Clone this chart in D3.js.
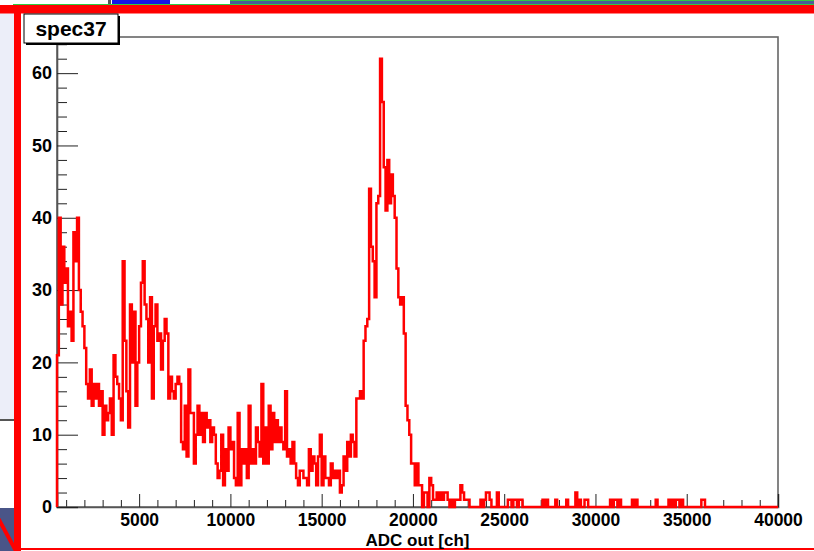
<!DOCTYPE html>
<html>
<head>
<meta charset="utf-8">
<script src="https://cdn.jsdelivr.net/npm/d3@7"></script>
<style>
  body { margin: 0; background: #fff; }
  svg { display: block; }
  text { font-family: "Liberation Sans", Arial, sans-serif; font-weight: bold; }
</style>
</head>
<body>
<div class="div1"></div>
<script>
// histogram spec37, bin width 100 ch, first bin starts at 500
const binStart = 500;
const binWidth = 100;

// 500 - 7600
const countsLow = [
  21,40,28,36,31,33,25,27,23,38,
  34,40,30,27,25,22,17,15,19,14,
  17,15,17,14,16,10,14,12,13,15,
  10,21,18,17,15,12,34,23,16,11,
  28,20,27,14,20,25,31,34,28,26,
  20,29,15,25,28,23,24,19,23,26,
  24,15,18,16,15,17,18,17,9,8,
  14
];
// 7600 - 14900
const countsMid = [
  7,19,13,13,6,10,14,10,13,9,
  13,11,12,9,11,10,6,4,5,10,
  3,8,5,11,8,9,4,3,13,3,
  8,6,8,4,14,6,8,6,11,9,
  7,17,6,11,6,14,8,13,9,12,
  9,11,9,8,16,7,8,6,9,6,
  4,3,5,5,4,4,3,8,5,7,
  6,3,7
];
// 14900 - 20500
const countsPeak = [
  10,3,7,4,4,3,6,4,5,4,
  5,2,3,7,5,9,7,10,9,7,
  15,15,16,15,23,25,26,44,36,34,
  29,42,43,62,56,47,41,48,42,46,
  43,40,33,29,28,29,24,14,12,10,
  6,6,3,6,3,3
];
// 20500 - 40000
const countsTail = [
  0,2,2,0,4,3,1,1,2,1,
  2,1,2,2,1,0,1,0,1,1,
  1,3,2,1,1,1,0,0,0,0,
  0,0,1,0,1,2,2,1,0,0,
  0,2,0,0,0,0,0,1,1,0,
  1,1,0,1,1,0,0,0,0,0,
  0,0,0,0,0,0,1,0,1,0,
  0,0,0,1,0,0,0,0,0,1,
  0,0,0,0,2,0,1,0,0,1,
  1,0,0,0,0,0,0,0,0,0,
  0,0,0,1,0,1,1,0,1,0,
  0,0,0,0,0,1,0,1,0,0,
  0,0,0,0,0,0,0,0,1,0,
  0,0,0,0,0,1,0,1,0,1,
  1,0,1,0,0,0,0,0,0,0,
  0,0,0,1,1,0,0,0,0,0,
  0,0,0,0,0,0,0,0,0,0,
  0,0,0,0,0,0,0,0,0,0,
  0,0,0,0,0,0,0,0,0,0,
  0,0,0,0,0
];

const xMajor = [5000,10000,15000,20000,25000,30000,35000,40000];
const yMajor = [0,10,20,30,40,50,60];
const title = "spec37";
const xTitle = "ADC out [ch]";

function drawSpec(){
  const counts = countsLow.concat(countsMid, countsPeak, countsTail);
  const W = 814, H = 551;
  const margin = {top:37, right:36, bottom:44, left:57};
  const width = W - margin.left - margin.right;
  const height = H - margin.top - margin.bottom;

  const svg = d3.select(".div1").append("svg")
    .attr("width", W)
    .attr("height", H);

  // screenshot surroundings (window decoration)
  svg.append("rect").attr("x",0).attr("y",0).attr("width",W).attr("height",5).attr("fill","#fff");
  svg.append("rect").attr("x",230).attr("y",0).attr("width",W-230).attr("height",5).attr("fill","#4b5e95");
  svg.append("rect").attr("x",112).attr("y",0).attr("width",58).attr("height",5).attr("fill","#1414e6");
  svg.append("rect").attr("x",108).attr("y",0).attr("width",3).attr("height",5).attr("fill","#555");
  svg.append("rect").attr("x",13).attr("y",4).attr("width",W-13).attr("height",1).attr("fill","#2ecc40");
  svg.append("rect").attr("x",230).attr("y",0).attr("width",W-230).attr("height",1).attr("fill","#2ecc40");
  svg.append("rect").attr("x",0).attr("y",13).attr("width",14).attr("height",406).attr("fill","#eceef9");
  svg.append("rect").attr("x",0).attr("y",419).attr("width",14).attr("height",2).attr("fill","#555");
  svg.append("rect").attr("x",0).attr("y",508).attr("width",14).attr("height",43).attr("fill","#4a5588");
  svg.append("line").attr("x1",-2).attr("y1",518).attr("x2",16).attr("y2",551)
    .attr("stroke","#ff0000").attr("stroke-width",4);
  svg.append("rect").attr("x",0).attr("y",5).attr("width",W).attr("height",8.5).attr("fill","#ff0000");
  svg.append("rect").attr("x",14).attr("y",5).attr("width",7).attr("height",H-5).attr("fill","#ff0000");
  svg.append("rect").attr("x",21).attr("y",548).attr("width",W-21).attr("height",2).attr("fill","#ff0000");

  const g = svg.append("g")
    .attr("transform","translate(" + margin.left + "," + margin.top + ")");

  const x = d3.scaleLinear()
    .domain([binStart, binStart + counts.length*binWidth])
    .range([0, width]);
  const y = d3.scaleLinear()
    .domain([0, 65])
    .range([height, 0]);

  // frame
  g.append("rect")
    .attr("width", width).attr("height", height)
    .attr("fill","none").attr("stroke","#666").attr("stroke-width",1.6);

  // minor ticks
  const xMinor = d3.range(1000, 40000, 1000).filter(v => v % 5000 !== 0);
  g.append("g")
    .attr("transform","translate(0," + height + ")")
    .call(d3.axisBottom(x).tickValues(xMinor).tickSize(-7).tickFormat(""))
    .call(a => a.select(".domain").remove())
    .selectAll("line").attr("stroke","#222");
  const yMinor = d3.range(2, 65, 2).filter(v => v % 10 !== 0);
  g.append("g")
    .call(d3.axisLeft(y).tickValues(yMinor).tickSize(-10).tickFormat(""))
    .call(a => a.select(".domain").remove())
    .selectAll("line").attr("stroke","#222");

  // major ticks + labels
  const bottomAxis = d3.axisBottom(x).tickValues(xMajor).tickSize(-13).tickPadding(7).tickFormat(d => d);
  const xa = g.append("g")
    .attr("transform","translate(0," + height + ")")
    .call(bottomAxis);
  xa.select(".domain").attr("stroke","#555").attr("stroke-width",1.6);
  xa.selectAll("line").attr("stroke","#222");
  xa.selectAll("text").attr("font-size","17.5px").attr("fill","#000")
    .attr("font-family","Liberation Sans, Arial, sans-serif").attr("font-weight","bold");

  const leftAxis = d3.axisLeft(y).tickValues(yMajor).tickSize(-21).tickPadding(5).tickFormat(d => d);
  const ya = g.append("g").call(leftAxis);
  ya.select(".domain").attr("stroke","#555").attr("stroke-width",1.6);
  ya.selectAll("line").attr("stroke","#222");
  ya.selectAll("text").attr("font-size","18px").attr("fill","#000")
    .attr("font-family","Liberation Sans, Arial, sans-serif").attr("font-weight","bold");

  // histogram outline
  const pts = [{e: binStart, v: 0}];
  counts.forEach((c,i) => pts.push({e: binStart + i*binWidth, v: c}));
  pts.push({e: binStart + counts.length*binWidth, v: counts[counts.length-1]});
  pts.push({e: binStart + counts.length*binWidth, v: 0});
  const line = d3.line()
    .x(d => x(d.e))
    .y(d => y(d.v))
    .curve(d3.curveStepAfter);
  g.append("path")
    .datum(pts)
    .attr("d", line)
    .attr("fill","none")
    .attr("stroke","#ff0000")
    .attr("stroke-width",2.5);

  // axis title
  g.append("text")
    .attr("x", width/2)
    .attr("y", height + 39)
    .attr("text-anchor","middle")
    .attr("font-size","17px")
    .text(xTitle);

  // title box with shadow
  svg.append("rect").attr("x",26).attr("y",16).attr("width",94).attr("height",29).attr("fill","#000");
  svg.append("rect").attr("x",24).attr("y",14).attr("width",94).attr("height",29)
    .attr("fill","#fff").attr("stroke","#000").attr("stroke-width",1);
  svg.append("text").attr("x",71).attr("y",36).attr("text-anchor","middle")
    .attr("font-size","21px").text(title);
}

drawSpec();
</script>
</body>
</html>
